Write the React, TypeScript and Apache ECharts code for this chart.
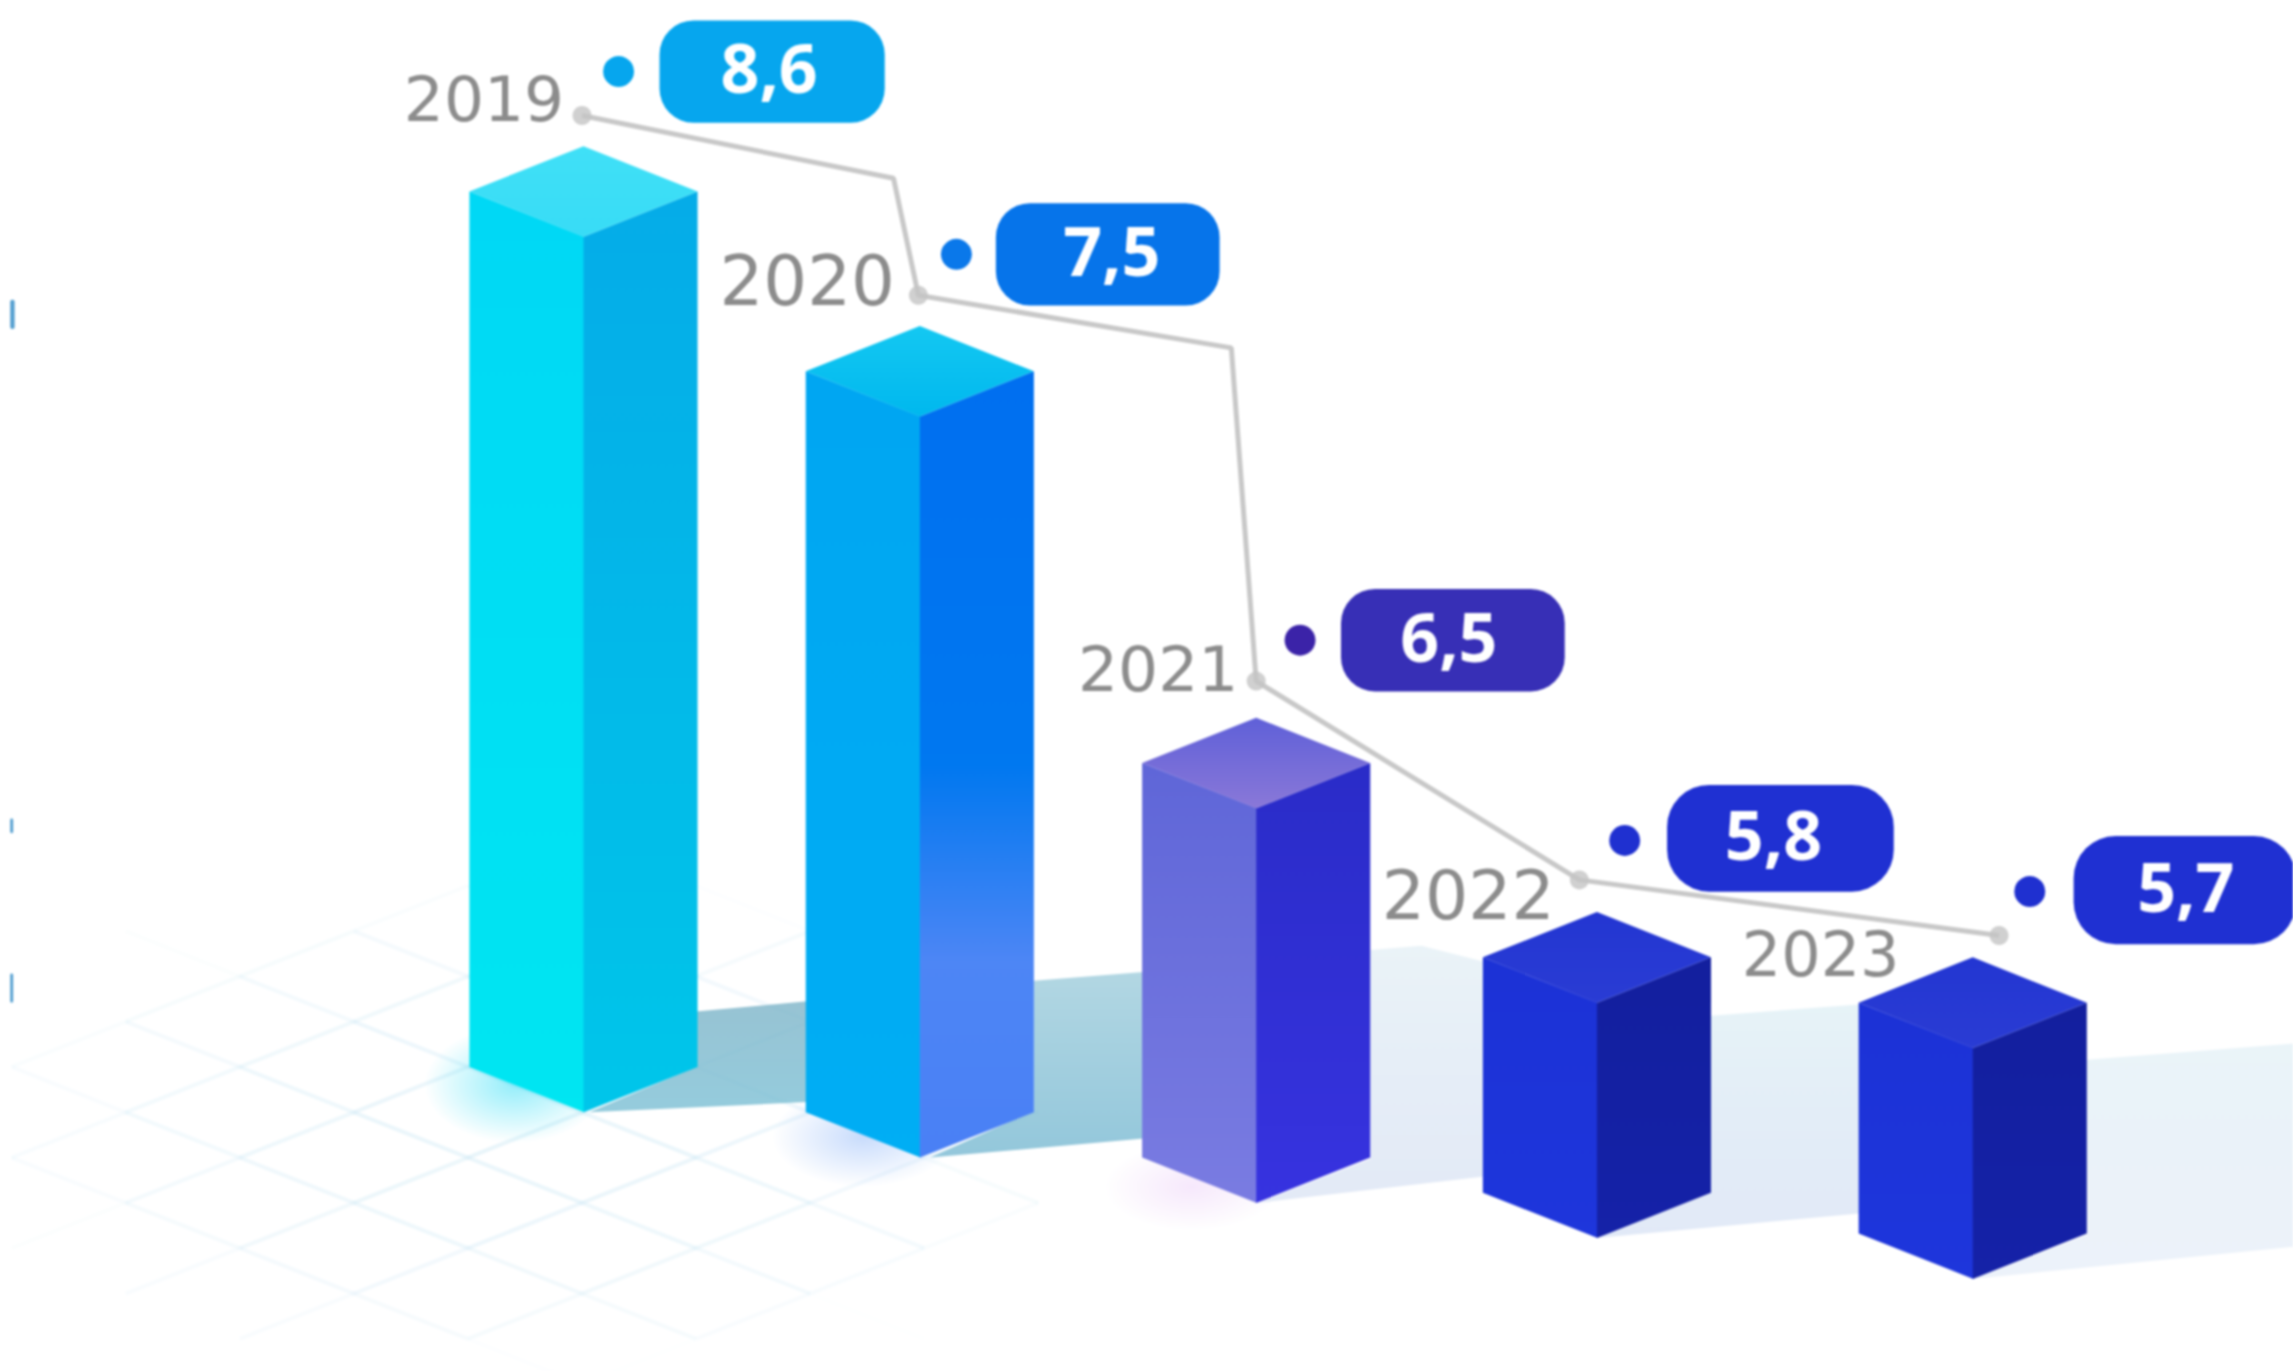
import React, { useEffect, useRef } from "react";
import * as echarts from "echarts";

// ---- Data ----
const categories = ["2019", "2020", "2021", "2022", "2023"];
const values = [8.6, 7.5, 6.5, 5.8, 5.7];
// Drawn front-edge height of each column, in units of the hidden y axis
const barHeights = [599, 507, 270, 161, 158];

// ---- Layout (hidden axes run over the picture in these units) ----
const W = 2293;
const H = 1371;
const AX = 1568;
const AY = 938;
const K = W / AX;
const HALF = 78;
const DEPTH = 31;
const barX = [399, 629, 859, 1092, 1349];
const barBase = [761, 792, 823, 847, 875];
const leaderPath: number[][] = [
  [398, 79], [611, 122], [628, 202], [842, 238], [859, 466], [1080, 602], [1367, 640],
];
const anchors: number[][] = [[398, 79], [628, 202], [859, 466], [1080, 602], [1367, 640]];
const yearPos: number[][] = [[331, 68], [552, 192], [792, 458], [1004, 613], [1245, 653]];
const yearSize = [63, 69, 63, 68, 62];
const dotPos: number[][] = [[423, 49], [654, 174], [889, 438], [1111, 575], [1388, 610]];
const pillBox: number[][] = [
  [451, 14, 154, 70], [681, 139, 153, 70], [917, 403, 153, 70], [1140, 537, 155, 73], [1418, 572, 152, 74],
];
const pillTextNudge = [-3, 4, -4, -7, 1];
const pillRadius = [34, 34, 34, 42, 42];
const pillColors = ["#06a6ee", "#0674ea", "#372fb6", "#1f30d2", "#1f30d2"];
const dotColors = ["#06a6ee", "#0a78ea", "#3b23a8", "#1f30d0", "#1f30d0"];
const grad = (c: string[], horizontal = false) =>
  new echarts.graphic.LinearGradient(0, 0, horizontal ? 1 : 0, horizontal ? 0 : 1,
    c.map((color, i) => ({ offset: c.length > 1 ? i / (c.length - 1) : 0, color })));
const faces = [
  { left: ["#00d8f5", "#00e6f2"], right: ["#05ace8", "#00c6ea"], top: ["#40e0f7", "#38dcf6"] },
  { left: ["#00a6f2", "#00aef4"], right: ["#006ff0", "#0074f0", "#0078f0", "#4d86f5", "#4a80f5"], top: ["#14c8f2", "#00b8ee"] },
  { left: ["#5f66d8", "#7a7ce2"], right: ["#2a2cc8", "#3733e0"], top: ["#5f60d8", "#8a78d8"] },
  { left: ["#1c32d6", "#1e36dc"], right: ["#131f9e", "#1522a8"], top: ["#2336d2", "#2a3cd4"] },
  { left: ["#1c32d6", "#1e36dc"], right: ["#131f9e", "#1522a8"], top: ["#2336d2", "#2a3cd4"] },
];
const shadows = [
  { pts: [[476, 692], [552, 685], [552, 754], [403, 761], [476, 730]], c: ["rgba(125,180,200,0.8)", "rgba(130,195,215,0.85)"] },
  { pts: [[707, 671], [782, 665], [782, 779], [636, 792], [707, 760]], c: ["rgba(165,208,222,0.85)", "rgba(120,185,210,0.8)"] },
  { pts: [[937, 650], [972, 647], [1015, 658], [1015, 805], [860, 823], [937, 793]], c: ["rgba(232,242,247,0.9)", "rgba(215,225,243,0.7)"] },
  { pts: [[1170, 695], [1273, 687], [1273, 830], [1092, 847], [1170, 816]], c: ["rgba(228,242,247,0.9)", "rgba(210,222,243,0.65)"] },
  { pts: [[1427, 725], [1568, 714], [1568, 853], [1349, 875], [1427, 845]], c: ["rgba(232,243,248,0.9)", "rgba(222,232,246,0.55)"] },
];
const glows = [
  { x: 352, y: 742, rx: 62, ry: 40, c: "rgba(0,215,245,0.42)" },
  { x: 590, y: 778, rx: 62, ry: 34, c: "rgba(60,130,245,0.28)" },
  { x: 815, y: 812, rx: 60, ry: 30, c: "rgba(215,150,240,0.22)" },
];
const edgeMarks: number[][] = [[7, 205, 3, 20], [7, 560, 2, 10], [7, 666, 2, 20]];

function App() {
  const ref = useRef<HTMLDivElement>(null);
  useEffect(() => {
    document.body.style.margin = "0";
    const chart = echarts.init(ref.current!, undefined, { renderer: "svg" });
    const floorItem = (_: any, api: any) => {
      const children: any[] = [];
      const dx = 78, dy = 31;
      const node = (k: number, m: number) => [398 + k * dx, 761 + m * dy];
      const add = (a: number[], b: number[]) => {
        const mx = (a[0] + b[0]) / 2, my = (a[1] + b[1]) / 2;
        const d = Math.hypot((mx - 370) / 370, (my - 770) / 165);
        const alpha = Math.pow(Math.max(0, 1 - d), 0.6) * 0.36;
        if (alpha <= 0.01) return;
        const p = api.coord(a), q = api.coord(b);
        children.push({
          type: "line",
          shape: { x1: p[0], y1: p[1], x2: q[0], y2: q[1] },
          style: { stroke: "#bfe2f2", lineWidth: 4, opacity: alpha },
        });
      };
      for (let k = -6; k <= 6; k++) for (let m = -8; m <= 8; m++) {
        if ((k + m) % 2 !== 0) continue;
        add(node(k, m), node(k + 1, m + 1));
        add(node(k, m), node(k + 1, m - 1));
      }
      return { type: "group", children };
    };
    const glowItem = (p: any, api: any) => {
      const g = glows[p.dataIndex];
      const c = api.coord([g.x, g.y]);
      return {
        type: "ellipse",
        shape: { cx: c[0], cy: c[1], rx: g.rx * K, ry: g.ry * K },
        style: {
          fill: new echarts.graphic.RadialGradient(0.5, 0.5, 0.5, [
            { offset: 0, color: g.c },
            { offset: 1, color: g.c.replace(/[\d.]+\)$/, "0)") },
          ]),
        },
      };
    };
    const shadowItem = (p: any, api: any) => {
      const s = shadows[p.dataIndex];
      return {
        type: "polygon",
        shape: { points: s.pts.map((q) => api.coord(q)) },
        style: { fill: grad(s.c) },
      };
    };
    const barItem = (p: any, api: any) => {
      const i = p.dataIndex;
      const cx = barX[i];
      const base = barBase[i];
      const top = base - Number(api.value(1));
      const f = faces[i];
      const pt = (x: number, y: number) => api.coord([x, y]);
      return {
        type: "group",
        children: [
          { type: "polygon", shape: { points: [pt(cx - HALF, top - DEPTH), pt(cx + 0.5, top), pt(cx + 0.5, base), pt(cx - HALF, base - DEPTH)] }, style: { fill: grad(f.left) } },
          { type: "polygon", shape: { points: [pt(cx, top), pt(cx + HALF, top - DEPTH), pt(cx + HALF, base - DEPTH), pt(cx, base)] }, style: { fill: grad(f.right) } },
          { type: "polygon", shape: { points: [pt(cx - HALF, top - DEPTH), pt(cx, top - 2 * DEPTH), pt(cx + HALF, top - DEPTH), pt(cx, top)] }, style: { fill: grad(f.top) } },
        ],
      };
    };
    const labelItem = (p: any, api: any) => {
      const i = p.dataIndex;
      const [bx, by, bw, bh] = pillBox[i];
      const tl = api.coord([bx, by]);
      const d = api.coord(dotPos[i]);
      const y = api.coord(yearPos[i]);
      return {
        type: "group",
        children: [
          { type: "circle", shape: { cx: d[0], cy: d[1], r: 15.5 }, style: { fill: dotColors[i] } },
          { type: "rect", shape: { x: tl[0], y: tl[1], width: bw * K, height: bh * K, r: pillRadius[i] }, style: { fill: pillColors[i] } },
          {
            type: "text",
            style: {
              text: String(values[i]).replace(".", ","),
              x: tl[0] + (bw * K) / 2 + pillTextNudge[i], y: tl[1] + (bh * K) / 2 - 5,
              fill: "#ffffff", fontFamily: "Open Sans", fontWeight: 700, fontSize: 68,
              textAlign: "center", textVerticalAlign: "middle", verticalAlign: "middle",
            },
          },
          {
            type: "text",
            style: {
              text: categories[i],
              x: y[0], y: y[1],
              fill: "#8c8c8c", fontFamily: "DejaVu Sans", fontWeight: 400, fontSize: yearSize[i],
              textAlign: "center", textVerticalAlign: "middle", verticalAlign: "middle",
            },
          },
        ],
      };
    };
    const edgeItem = (p: any, api: any) => {
      const [x, y, w, h] = edgeMarks[p.dataIndex];
      const c = api.coord([x, y]);
      return { type: "rect", shape: { x: c[0], y: c[1], width: w * K, height: h * K, r: 2 }, style: { fill: "#1b7fc0", opacity: 0.75 } };
    };
    const idx = (a: any[]) => a.map((_, i) => [i, 0]);
    chart.setOption({
      animation: false,
      backgroundColor: "#ffffff",
      grid: { left: 0, right: 0, top: 0, bottom: 0 },
      xAxis: { type: "value", min: 0, max: AX, show: false },
      yAxis: { type: "value", min: 0, max: AY, inverse: true, show: false },
      tooltip: { show: false },
      series: [
        { type: "custom", name: "floor", z: 1, silent: true, clip: false, renderItem: floorItem, data: [[0, 0]] },
        { type: "custom", name: "glow", z: 2, silent: true, clip: false, renderItem: glowItem, data: idx(glows) },
        { type: "custom", name: "shadow", z: 3, silent: true, clip: false, renderItem: shadowItem, data: idx(shadows) },
        { type: "custom", name: "edge", z: 3, silent: true, clip: false, renderItem: edgeItem, data: idx(edgeMarks) },
        { type: "custom", name: "bars", z: 4, silent: true, clip: false, renderItem: barItem, data: barHeights.map((h, i) => [i, h]) },
        {
          type: "line", name: "leader", z: 5, silent: true, symbol: "none", data: leaderPath,
          lineStyle: { color: "#c8c8c8", width: 5 },
        },
        {
          type: "scatter", name: "anchors", z: 6, silent: true, data: anchors, symbol: "circle", symbolSize: 19,
          itemStyle: { color: "#c4c4c4" },
        },
        { type: "custom", name: "labels", z: 7, silent: true, clip: false, renderItem: labelItem, data: idx(values) },
      ],
    });
    return () => chart.dispose();
  }, []);
  return <div ref={ref} style={{ width: W, height: H, filter: "blur(0.8px)" }} />;
}

export default App;
